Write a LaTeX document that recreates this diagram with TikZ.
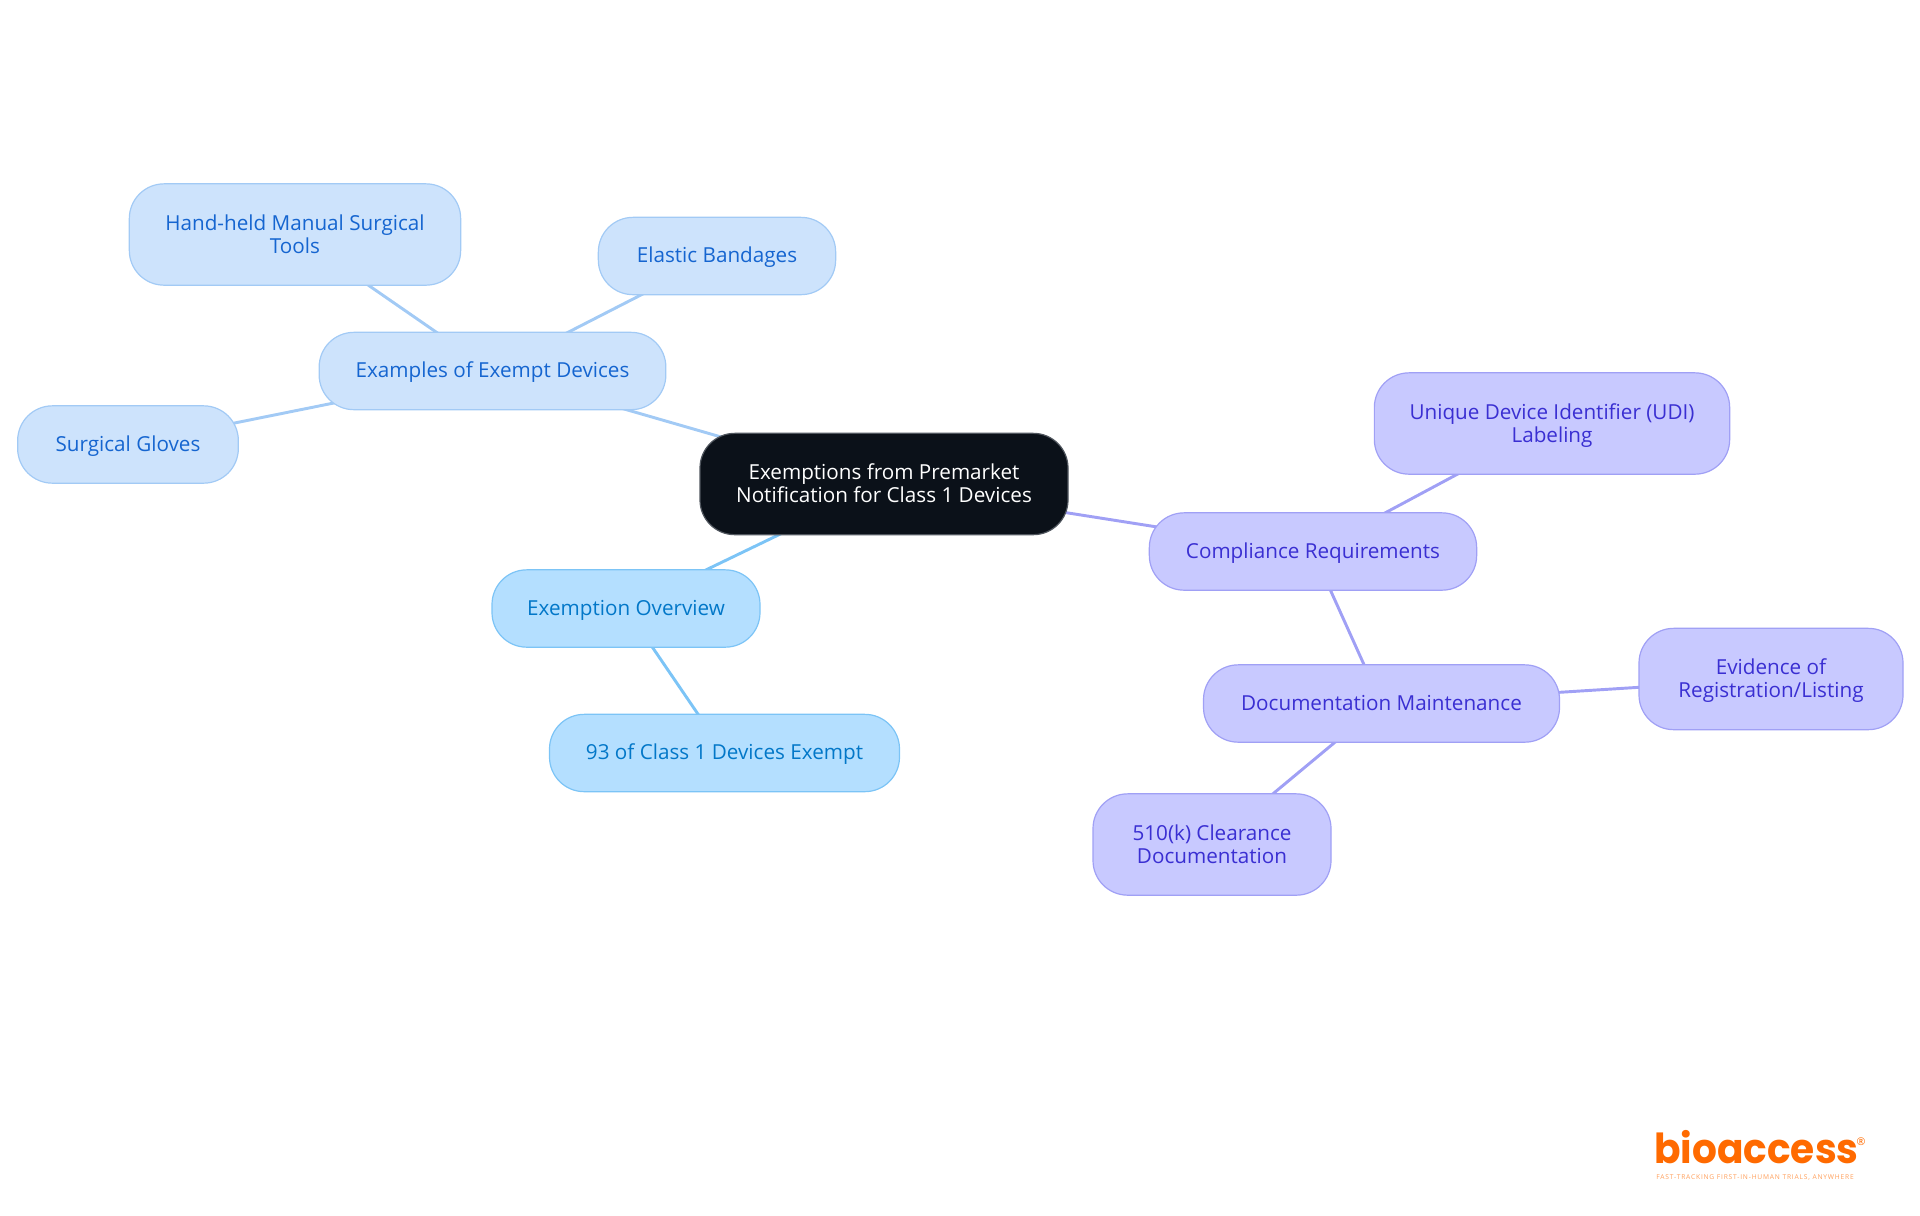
\documentclass[tikz,border=0pt]{standalone}
\usepackage{fontspec}
\setmainfont{Open Sans}
\newfontfamily\logofont{Poppins}
\usetikzlibrary{backgrounds}
\definecolor{rootfill}{HTML}{0B1119}
\definecolor{rootborder}{HTML}{50565E}
\definecolor{examplefill}{HTML}{CDE3FC}
\definecolor{exampleborder}{HTML}{A2CAF5}
\definecolor{exampletext}{HTML}{1565D0}
\definecolor{overviewfill}{HTML}{B4DFFF}
\definecolor{overviewborder}{HTML}{7CC4F6}
\definecolor{overviewtext}{HTML}{0277C8}
\definecolor{compliancefill}{HTML}{C8C9FF}
\definecolor{complianceborder}{HTML}{A0A0F5}
\definecolor{compliancetext}{HTML}{3A2FD2}
\definecolor{logoorange}{HTML}{FF6A00}
\tikzset{
  map node/.style={
    rectangle, rounded corners=26pt, line width=0.9pt,
    inner sep=0pt, align=center,
    font=\fontsize{15.5}{17.25}\selectfont
  },
  map root/.style={map node, draw=rootborder, fill=rootfill, text=white},
  map example/.style={map node, draw=exampleborder, fill=examplefill, text=exampletext},
  map overview/.style={map node, draw=overviewborder, fill=overviewfill, text=overviewtext},
  map compliance/.style={map node, draw=complianceborder, fill=compliancefill, text=compliancetext},
  map single/.style={minimum height=58pt, text height=12pt, text depth=2pt},
  map double/.style={minimum height=76pt, text height=30pt, text depth=2pt},
  map line/.style={line width=2.2pt}
}
\begin{document}
\begin{tikzpicture}[x=0.75pt,y=-0.75pt]
  \useasboundingbox (0,0) rectangle (1920,1215);

  \node[map root,map double,minimum width=276pt] (root) at (884,484) {Exemptions from Premarket\\Notification for Class 1 Devices};

  \node[map example,map single,minimum width=260pt] (examples) at (492.5,371) {Examples of Exempt Devices};
  \node[map example,map double,minimum width=248.5pt] (handtools) at (295,234.5) {Hand-held Manual Surgical\\Tools};
  \node[map example,map single,minimum width=178pt] (bandages) at (717,256) {Elastic Bandages};
  \node[map example,map single,minimum width=165.5pt] (gloves) at (128,444.5) {Surgical Gloves};

  \node[map overview,map single,minimum width=201pt] (overview) at (626,608.5) {Exemption Overview};
  \node[map overview,map single,minimum width=262.5pt] (exempt) at (724.5,753) {93 of Class 1 Devices Exempt};

  \node[map compliance,map single,minimum width=245.5pt] (compliance) at (1313,551.5) {Compliance Requirements};
  \node[map compliance,map double,minimum width=266.5pt] (udi) at (1552,423.5) {Unique Device Identifier (UDI)\\Labeling};
  \node[map compliance,map single,minimum width=267pt] (documents) at (1381.5,703.5) {Documentation Maintenance};
  \node[map compliance,map double,minimum width=198pt] (evidence) at (1771,679) {Evidence of\\Registration/Listing};
  \node[map compliance,map double,minimum width=178.5pt] (clearance) at (1212,844.5) {510(k) Clearance\\Documentation};

  % Connections run centre to centre behind the opaque boxes.
  \begin{scope}[on background layer]
    \draw[map line,draw=exampleborder] (root.center) -- (examples.center);
    \draw[map line,draw=exampleborder] (examples.center) -- (handtools.center);
    \draw[map line,draw=exampleborder] (examples.center) -- (bandages.center);
    \draw[map line,draw=exampleborder] (examples.center) -- (gloves.center);

    \draw[map line,draw=overviewborder] (root.center) -- (overview.center);
    \draw[map line,draw=overviewborder] (overview.center) -- (exempt.center);

    \draw[map line,draw=complianceborder] (root.center) -- (compliance.center);
    \draw[map line,draw=complianceborder] (compliance.center) -- (udi.center);
    \draw[map line,draw=complianceborder] (compliance.center) -- (documents.center);
    \draw[map line,draw=complianceborder] (documents.center) -- (evidence.center);
    \draw[map line,draw=complianceborder] (documents.center) -- (clearance.center);
  \end{scope}

  % Logo in the lower right corner.
  \node[inner sep=0pt,anchor=base west,xscale=0.945,transform shape,text=logoorange,font=\logofont\bfseries\fontsize{31}{31}\selectfont] (logo) at (1654,1163) {bioaccess};
  \node[inner sep=0pt,anchor=base,text=logoorange!65,font=\fontsize{5}{6}\selectfont\addfontfeature{LetterSpace=12}] (tagline) at (1755,1179) {FAST-TRACKING FIRST-IN-HUMAN TRIALS, ANYWHERE};
  \node[inner sep=0pt,text=logoorange,font=\fontsize{8}{8}\selectfont] (regmark) at (1861,1142) {®};
\end{tikzpicture}
\end{document}
